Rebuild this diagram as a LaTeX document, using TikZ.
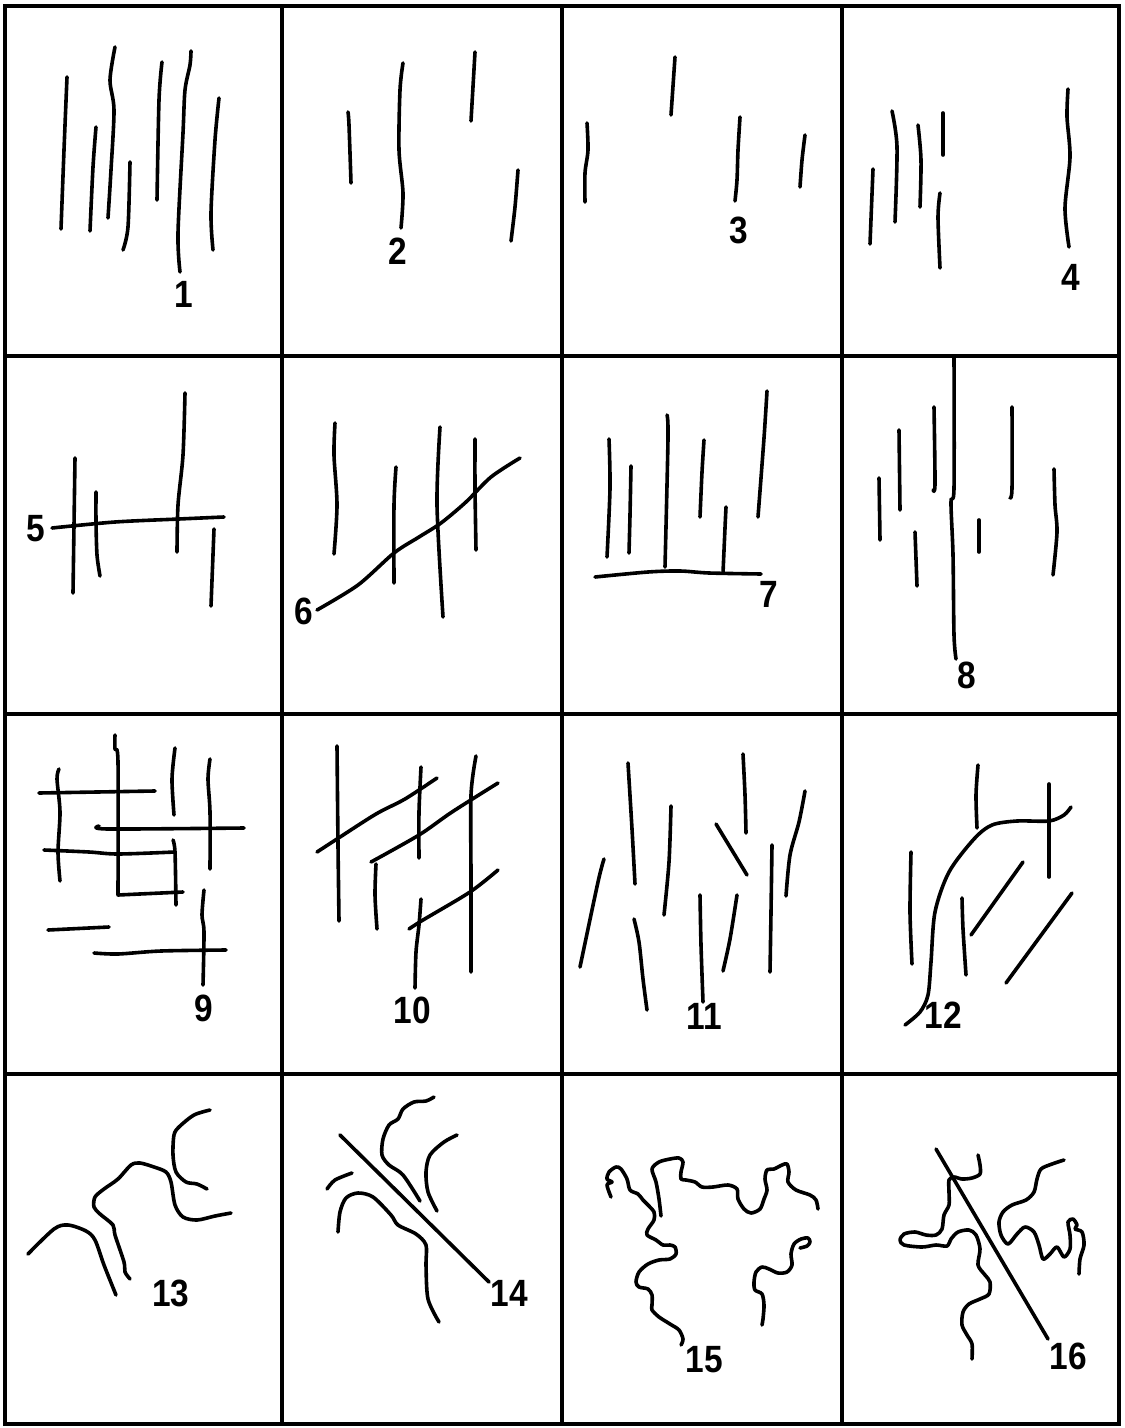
\documentclass[tikz,border=0pt]{standalone}
\usepackage{fontspec}
\setmainfont{Liberation Sans}
\newfontfamily\numfont{Liberation Sans}[FakeStretch=0.88]
\tikzset{
  crack/.style={line width=1.8pt,line cap=round,line join=round},
  num/.style={font=\numfont\bfseries\fontsize{19}{22}\selectfont,inner sep=0pt}
}
\begin{document}
\begin{tikzpicture}[x=0.5pt,y=-0.5pt]
\useasboundingbox (0,0) rectangle (1124,1428);
% frame and grid
\draw[line width=1.6pt] (5,6) rectangle (1119,1424);
\foreach \x in {282,562,842} \draw[line width=1.6pt] (\x,6)--(\x,1424);
\foreach \y in {356,714,1074} \draw[line width=1.6pt] (5,\y)--(1119,\y);

% 1
\draw[crack] plot[smooth] coordinates {(67,77) (64,150) (61,229)};
\draw[crack] plot[smooth] coordinates {(115,47) (110,80) (114,110) (111,170) (108,218)};
\draw[crack] plot[smooth] coordinates {(96,127) (93,167) (90,231)};
\draw[crack] plot[smooth] coordinates {(130,162) (128,227) (123,250)};
\draw[crack] plot[smooth] coordinates {(162,62) (159,100) (157,200)};
\draw[crack] plot[smooth] coordinates {(191,51) (190,65) (185,90) (183,133) (178,233) (180,272)};
\draw[crack] plot[smooth] coordinates {(219,98) (215,140) (211,213) (213,250)};
\node[num] (l1) at (184,294) {1};

% 2
\draw[crack] plot[smooth] coordinates {(348,112) (349,125) (351,183)};
\draw[crack] plot[smooth] coordinates {(403,63) (400,90) (399,150) (403,193) (401,228)};
\draw[crack] (475,52)--(471,121);
\draw[crack] plot[smooth] coordinates {(518,170) (515,207) (511,241)};
\node[num] (l2) at (398,251) {2};

% 3
\draw[crack] plot[smooth] coordinates {(587,123) (588,150) (585,173) (585,202)};
\draw[crack] (675,57)--(671,115);
\draw[crack] plot[smooth] coordinates {(740,117) (738,150) (737,180) (735,201)};
\draw[crack] plot[smooth] coordinates {(805,135) (802,160) (800,187)};
\node[num] (l3) at (739,230) {3};

% 4
\draw[crack] (873,169)--(870,244);
\draw[crack] plot[smooth] coordinates {(892,111) (897,147) (895,222)};
\draw[crack] plot[smooth] coordinates {(918,125) (921,160) (920,207)};
\draw[crack] (943,113)--(943,155);
\draw[crack] plot[smooth] coordinates {(940,193) (938,217) (940,268)};
\draw[crack] plot[smooth] coordinates {(1068,89) (1067,117) (1070,157) (1065,208) (1069,247)};
\node[num] (l4) at (1071,277) {4};

% 5
\draw[crack] plot[smooth] coordinates {(52,528) (115,522) (179,519) (224,517)};
\draw[crack] (75,458)--(73,593);
\draw[crack] plot[smooth] coordinates {(96,492) (96,522) (97,555) (100,576)};
\draw[crack] plot[smooth] coordinates {(185,393) (183,455) (178,505) (177,552)};
\draw[crack] (214,529)--(211,606);
\node[num] (l5) at (36,529) {5};

% 6
\draw[crack] plot[smooth] coordinates {(335,423) (334,455) (337,505) (334,554)};
\draw[crack] plot[smooth] coordinates {(396,467) (394,505) (394,583)};
\draw[crack] plot[smooth] coordinates {(440,427) (437,505) (443,617)};
\draw[crack] plot[smooth] coordinates {(475,439) (475,488) (476,550)};
\draw[crack] plot[smooth] coordinates {(317,610) (358,585) (394,553) (419,537) (441,523) (466,502) (491,477) (520,458)};
\node[num] (l6) at (304,611) {6};

% 7
\draw[crack] plot[smooth] coordinates {(595,577) (648,572) (680,571) (709,573) (761,574)};
\draw[crack] plot[smooth] coordinates {(609,439) (610,488) (607,557)};
\draw[crack] plot[smooth] coordinates {(631,466) (630,515) (629,553)};
\draw[crack] plot[smooth] coordinates {(667,415) (668,438) (665,567)};
\draw[crack] plot[smooth] coordinates {(704,440) (702,472) (700,517)};
\draw[crack] plot[smooth] coordinates {(726,507) (725,528) (723,573)};
\draw[crack] plot[smooth] coordinates {(767,391) (764,438) (758,517)};
\node[num] (l7) at (769,594) {7};

% 8
\draw[crack] plot[smooth] coordinates {(954,357) (954,488) (951,502) (953,555) (954,635) (956,659)};
\draw[crack] (879,478)--(880,540);
\draw[crack] (899,430)--(900,510);
\draw[crack] plot[smooth] coordinates {(934,407) (935,484) (933,490)};
\draw[crack] (915,532)--(917,586);
\draw[crack] (979,520)--(979,552);
\draw[crack] plot[smooth] coordinates {(1012,407) (1012,488) (1010,498)};
\draw[crack] plot[smooth] coordinates {(1054,469) (1055,505) (1057,532) (1053,575)};
\node[num] (l8) at (967,675) {8};

% 9
\draw[crack] (39,793)--(155,791);
\draw[crack] plot[smooth] coordinates {(99,826) (108,829) (244,828)};
\draw[crack] plot[smooth] coordinates {(44,850) (89,852) (118,854) (175,852)};
\draw[crack] plot[smooth] coordinates {(173,840) (175,852) (176,905)};
\draw[crack] plot[smooth] coordinates {(115,735) (115,749) (118,762) (118,895)} -- (183,892);
\draw[crack] plot[smooth] coordinates {(59,769) (57,779) (60,812) (58,852) (60,881)};
\draw[crack] plot[smooth] coordinates {(175,748) (172,779) (174,815)};
\draw[crack] plot[smooth] coordinates {(210,759) (208,779) (210,812) (210,869)};
\draw[crack] (48,930)--(109,927);
\draw[crack] plot[smooth] coordinates {(94,953) (118,954) (161,951) (226,950)};
\draw[crack] plot[smooth] coordinates {(204,890) (202,915) (204,932) (203,985)};
\node[num] (l9) at (204,1008) {9};

% 10
\draw[crack] plot[smooth] coordinates {(337,746) (338,845) (339,921)};
\draw[crack] plot[smooth] coordinates {(317,852) (337,839) (376,814) (405,799) (437,778)};
\draw[crack] plot[smooth] coordinates {(421,767) (419,812) (419,858)};
\draw[crack] plot[smooth] coordinates {(371,862) (419,835) (452,812) (498,783)};
\draw[crack] plot[smooth] coordinates {(376,864) (375,895) (377,929)};
\draw[crack] plot[smooth] coordinates {(476,756) (471,795) (471,879) (471,972)};
\draw[crack] plot[smooth] coordinates {(409,929) (423,920) (470,892) (498,870)};
\draw[crack] plot[smooth] coordinates {(421,899) (419,925) (416,952) (415,988)};
\node[num] (l10) at (412,1010) {10};

% 11
\draw[crack] plot[smooth] coordinates {(604,859) (598,882) (580,967)};
\draw[crack] plot[smooth] coordinates {(628,763) (632,829) (635,884)};
\draw[crack] plot[smooth] coordinates {(671,806) (669,862) (664,915)};
\draw[crack] plot[smooth] coordinates {(634,919) (639,942) (643,979) (647,1010)};
\draw[crack] plot[smooth] coordinates {(743,754) (745,795) (746,833)};
\draw[crack] (716,824)--(747,875);
\draw[crack] plot[smooth] coordinates {(700,895) (701,945) (703,1002)};
\draw[crack] plot[smooth] coordinates {(737,895) (730,939) (723,971)};
\draw[crack] plot[smooth] coordinates {(772,845) (771,912) (770,972)};
\draw[crack] plot[smooth] coordinates {(805,791) (799,822) (790,855) (786,896)};
\node[num] (l11) at (704,1016) {11};

% 12
\draw[crack] plot[smooth] coordinates {(911,852) (910,912) (912,964)};
\draw[crack] plot[smooth] coordinates {(978,765) (976,795) (977,828)};
\draw[crack] (1049,784)--(1049,877);
\draw[crack] plot[smooth] coordinates {(905,1025) (920,1012) (928,995) (931,962) (935,912) (949,872) (974,839) (992,825) (1017,821) (1049,821) (1064,815) (1071,807)};
\draw[crack] plot[smooth] coordinates {(962,898) (963,929) (966,975)};
\draw[crack] (1023,862)--(971,935);
\draw[crack] (1072,893)--(1006,983);
\node[num] (l12) at (943,1015) {12};

% 13
\draw[crack] plot[smooth] coordinates {(210,1110) (194,1115) (179,1127) (174,1135) (173,1155) (176,1172) (186,1182) (197,1184) (207,1189)};
\draw[crack] plot[smooth] coordinates {(28,1254) (54,1229) (68,1225) (86,1231) (95,1240) (104,1265) (116,1295)};
\draw[crack] plot[smooth] coordinates {(130,1279) (125,1272) (124,1262) (115,1235) (113,1225) (100,1214) (94,1207) (95,1197) (104,1189) (118,1179) (131,1165) (140,1163) (154,1167) (166,1172) (171,1182) (175,1205) (183,1217) (197,1220) (215,1216) (231,1213)};
\node[num] (l13) at (171,1293) {13};

% 14
\draw[crack] (340,1135)--(489,1282);
\draw[crack] plot[smooth] coordinates {(327,1189) (335,1180) (352,1173)};
\draw[crack] plot[smooth] coordinates {(338,1232) (340,1212) (346,1198) (358,1193) (373,1197) (391,1215) (398,1225) (416,1234) (426,1245) (426,1265) (428,1299) (439,1322)};
\draw[crack] plot[smooth] coordinates {(434,1097) (426,1101) (414,1102) (403,1109) (398,1119) (389,1125) (383,1139) (382,1155) (389,1165) (403,1175) (420,1201)};
\draw[crack] plot[smooth] coordinates {(457,1135) (444,1142) (430,1155) (426,1172) (428,1192) (437,1211)};
\node[num] (l14) at (509,1293) {14};

% 15
\draw[crack] plot[smooth] coordinates {(611,1197) (607,1185) (612,1182) (607,1179) (609,1172) (616,1167) (621,1169) (627,1179) (630,1190) (638,1194) (643,1200) (648,1205) (654,1212) (654,1220) (648,1229) (647,1235) (656,1240) (663,1245) (670,1245) (675,1247) (676,1254) (670,1259) (659,1260) (648,1264) (639,1272) (636,1282) (639,1287) (648,1289) (652,1295) (652,1305) (652,1310) (659,1317) (670,1324) (679,1330) (683,1339) (681,1345)};
\draw[crack] plot[smooth] coordinates {(661,1216) (659,1199) (656,1182) (652,1169) (659,1162) (670,1159) (679,1158) (683,1162) (681,1172) (681,1179) (686,1180) (695,1182) (702,1187) (713,1187) (728,1185) (737,1189) (738,1199) (744,1209) (751,1213) (760,1209) (764,1199) (767,1190) (765,1179) (767,1170) (774,1169) (782,1165) (787,1164) (789,1172) (788,1182) (796,1190) (810,1195) (816,1200) (818,1209)};
\draw[crack] plot[smooth] coordinates {(800,1248) (807,1246) (810,1242) (808,1238) (801,1239) (794,1244) (791,1254) (792,1265) (787,1272) (778,1273) (769,1269) (762,1267) (756,1272) (754,1282) (755,1290) (762,1294) (764,1305) (763,1319) (762,1325)};
\node[num] (l15) at (704,1360) {15};

% 16
\draw[crack] (936,1149)--(1048,1339);
\draw[crack] plot[smooth] coordinates {(978,1155) (980,1165) (980,1174) (972,1178) (962,1179) (954,1177) (949,1180) (949,1192) (949,1205) (944,1215) (942,1229) (936,1235) (926,1235) (915,1232) (904,1234) (900,1240) (904,1245) (922,1247) (936,1245) (947,1246) (951,1239) (958,1232) (969,1230) (976,1235) (980,1249) (978,1265) (985,1275) (990,1282) (989,1294) (980,1299) (969,1304) (963,1312) (962,1325) (967,1335) (972,1344) (972,1359)};
\draw[crack] plot[smooth] coordinates {(1064,1160) (1052,1164) (1041,1169) (1037,1179) (1034,1192) (1026,1200) (1012,1205) (1003,1212) (999,1222) (1001,1235) (1008,1244) (1017,1234) (1025,1227) (1034,1232) (1039,1245) (1043,1259) (1050,1254) (1057,1247) (1064,1257) (1070,1249) (1070,1235) (1068,1222) (1073,1219) (1077,1225) (1075,1229) (1082,1232) (1084,1245) (1080,1259) (1079,1274)};
\node[num] (l16) at (1068,1356) {16};
\end{tikzpicture}
\end{document}
